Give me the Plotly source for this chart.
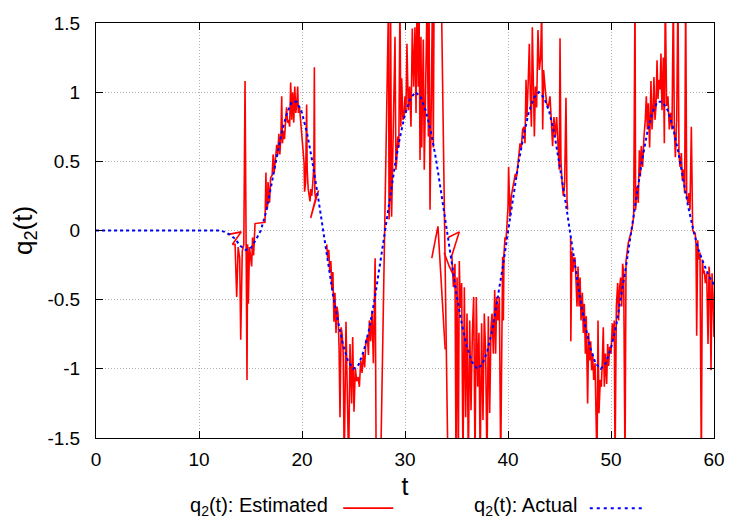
import plotly.graph_objects as go

# ---------------- data ----------------
# Actual q2(t) (blue dotted)
act_t = [0, 12, 12.5, 13, 13.5, 14, 14.5, 15, 15.5, 16, 16.5, 17, 17.5, 18, 18.5, 19, 19.5, 20,
         20.5, 21, 21.5, 22, 22.5, 23, 23.5, 24, 24.5, 25, 25.5, 26, 26.5, 27, 27.5, 28, 28.5,
         29, 29.5, 30, 30.5, 31, 31.5, 32, 32.5, 33, 33.5, 34, 34.5, 35, 35.5, 36, 36.5, 37,
         37.5, 38, 38.5, 39, 39.5, 40, 40.5, 41, 41.5, 42, 42.5, 43, 43.5, 44, 44.5, 45, 45.5,
         46, 46.5, 47, 47.5, 48, 48.5, 49, 49.5, 50, 50.5, 51, 51.5, 52, 52.5, 53, 53.5, 54,
         54.5, 55, 55.5, 56, 56.5, 57, 57.5, 58, 58.5, 59, 59.5, 60]
act_q = [0, 0, -0.01, -0.03, -0.06, -0.11, -0.14, -0.13, -0.07, 0.0, 0.13, 0.32, 0.52, 0.7,
         0.84, 0.93, 0.93, 0.85, 0.7, 0.5, 0.27, 0.02, -0.23, -0.46, -0.66, -0.83, -0.95, -1.0,
         -0.97, -0.87, -0.72, -0.52, -0.28, -0.03, 0.22, 0.46, 0.67, 0.84, 0.95, 1.0, 0.97, 0.87,
         0.72, 0.52, 0.28, 0.03, -0.22, -0.46, -0.67, -0.84, -0.95, -1.0, -0.97, -0.87, -0.71,
         -0.5, -0.26, -0.01, 0.24, 0.48, 0.68, 0.85, 0.96, 1.0, 0.96, 0.86, 0.7, 0.49, 0.25, 0.0,
         -0.25, -0.49, -0.69, -0.85, -0.96, -1.0, -0.96, -0.85, -0.69, -0.48, -0.24, 0.01, 0.26,
         0.5, 0.7, 0.85, 0.93, 0.93, 0.87, 0.75, 0.58, 0.37, 0.17, 0.0, -0.14, -0.24, -0.33, -0.39]

# Estimated q2(t) (red), in pieces
est_t_a = [12.78, 14.1, 13.25, 13.5, 13.66, 13.8, 13.95, 14.05, 14.2, 14.35, 14.47, 14.55, 14.66,
           14.72, 14.79, 14.9, 15.0, 15.11, 15.2, 15.3, 15.44, 16.41, 16.5, 16.55, 16.65, 16.7,
           16.85, 16.95, 17.1, 17.2, 17.3, 17.4, 17.55, 17.65, 17.75, 17.85, 17.95, 18.03, 18.1,
           18.2, 18.3, 18.4, 18.5, 18.6, 18.7, 18.8, 18.9, 19.0, 19.1, 19.2, 19.3, 19.4, 19.5,
           19.58, 19.65, 19.75, 19.9, 20.0, 20.1, 20.2, 20.25, 20.35, 20.45, 20.5, 20.6, 20.7,
           20.78, 20.85, 20.95, 21.05, 21.15, 21.2, 21.25, 21.35, 21.45, 20.84, 21.6]
est_q_a = [-0.03, -0.01, -0.1, -0.1, -0.48, -0.12, -0.2, -0.79, -0.15, -0.1, 1.08, -0.12, -1.08,
           -0.1, -0.53, -0.12, -0.2, -0.26, -0.05, -0.18, 0.05, 0.06, 0.42, 0.15, 0.17, 0.35,
           0.2, 0.38, 0.4, 0.55, 0.42, 0.5, 0.62, 0.55, 0.7, 0.55, 0.68, 0.97, 0.63, 0.72, 0.66,
           0.78, 0.89, 0.78, 0.8, 0.75, 1.07, 0.8, 1.0, 0.78, 1.04, 0.85, 0.92, 1.04, 0.85, 0.9,
           0.75, 0.65, 0.55, 0.49, 0.28, 0.35, 0.91, 0.45, 0.3, 0.25, 0.21, 0.3, 0.25, 0.35,
           0.46, 1.18, 0.27, 0.22, 0.27, 0.09, 0.29]

est_t_b = [22.4, 22.5, 22.6, 22.7, 22.8, 22.9, 23.0, 23.1, 23.2, 23.3, 23.4, 23.5, 23.6, 23.69,
           23.8, 23.9, 24.0, 24.1, 24.27, 24.4, 24.53, 24.66, 24.82, 24.92, 25.05, 25.18, 25.3,
           25.45, 25.57, 25.7, 25.83, 25.95, 26.08, 26.2, 26.35, 26.45, 26.54, 26.67, 26.8,
           26.93, 27.02, 27.1, 27.2, 27.65, 28.4, 28.45, 28.55, 28.6, 28.7, 28.8, 28.93, 29.03,
           29.12, 29.19, 29.3, 29.4, 29.51, 29.6, 29.68, 29.8, 29.9, 30.0, 30.09, 30.19, 30.32,
           30.45, 30.58, 30.71, 30.84, 30.97, 31.07, 31.17, 31.29, 31.36, 31.46, 31.55, 31.62,
           31.78, 31.87, 32.0, 32.14, 32.27, 32.33, 32.43, 32.53, 32.66, 32.75, 32.82, 33.1,
           33.55, 34.15]
est_q_b = [-0.1, -0.2, -0.14, -0.3, -0.22, -0.42, -0.3, -0.66, -0.45, -0.74, -0.55, -0.6, -0.85,
           -1.35, -0.7, -0.75, -0.89, -1.7, -0.66, -1.03, -1.7, -0.82, -1.25, -0.77, -1.31,
           -0.99, -1.09, -1.06, -1.13, -0.94, -1.03, -0.89, -0.99, -0.8, -0.77, -0.9, -0.65,
           -0.8, -0.58, -0.96, -0.36, -0.2, -1.7, -1.65, 1.65, 0.08, 0.3, 1.65, 0.1, 0.45, 1.04,
           1.4, 0.44, 0.5, 0.68, 0.6, 1.65, 0.75, 1.1, 0.8, 0.82, 0.97, 0.85, 1.35, 0.87, 1.04,
           0.75, 1.46, 1.04, 1.47, 0.85, 1.65, 1.04, 1.65, 0.51, 1.4, 0.6, 1.38, 0.44, 1.28, 1.65,
           0.68, 1.65, 0.15, 0.8, 1.65, 0.6, 1.65, 2.0, 1.6, -1.6]

est_t_c = [32.6, 33.2, 33.9]
est_q_c = [-0.2, 0.03, -0.86]

est_t_d = [33.8, 34.3, 34.75]
est_q_d = [-0.16, -0.26, -0.33]

est_t_e = [34.2, 35.27, 34.55, 34.7, 34.85, 34.95, 35.05, 35.18, 35.27, 35.37, 35.5, 35.63,
           35.76, 35.89, 36.02, 36.15, 36.28, 36.41, 36.54, 36.67, 36.8, 36.92, 37.06, 37.18,
           37.3, 37.44, 37.57, 37.7, 37.83, 37.96, 38.09, 38.22, 38.35, 38.45, 38.58, 38.71,
           38.8, 38.9, 39.03, 39.16, 39.29, 39.42, 39.48, 39.55, 39.61, 39.71, 39.8, 39.87, 40.0,
           40.06, 40.19, 40.32, 40.45, 40.58, 40.71, 40.84, 41.0, 41.17, 41.29, 41.42, 41.55,
           41.65, 41.75, 41.84, 41.97, 42.07, 42.17, 42.27, 42.36, 42.46, 42.56, 42.66, 42.78,
           42.91, 43.04, 43.17, 43.27, 43.37, 43.46, 43.59, 43.75, 43.92, 44.08, 44.2, 44.33,
           44.46, 44.59, 44.72, 44.85, 44.98, 45.05, 45.14, 45.24, 45.37, 45.5, 45.63, 45.73,
           45.79]
est_q_e = [-0.05, -0.01, -0.18, -0.41, -0.24, -1.7, -0.34, -1.7, -0.22, -0.56, -0.38, -1.7,
           -0.41, -1.35, -0.6, -1.7, -0.65, -1.3, -0.74, -0.48, -1.7, -0.48, -1.13, -0.74, -1.7,
           -0.67, -1.37, -0.6, -0.89, -1.7, -0.62, -1.32, -0.7, -0.6, -0.89, -0.43, -0.89, -0.48,
           -0.65, -0.48, -1.7, -0.46, -0.19, -0.65, -0.17, -0.05, -0.07, 0.0, 0.17, 0.46, 0.1,
           0.25, 0.3, 0.36, 0.41, 0.39, 0.51, 0.63, 0.6, 0.73, 0.75, 0.63, 1.09, 0.82, 1.09, 1.35,
           0.97, 0.75, 1.47, 1.04, 0.68, 1.04, 0.89, 1.45, 1.16, 1.25, 1.6, 0.73, 1.16, 1.04,
           0.92, 0.89, 0.97, 0.8, 0.61, 0.82, 0.68, 0.82, 0.61, 0.44, 1.39, 0.51, 0.36, 0.25,
           0.34, 0.96, 0.22, 0.15]

est_t_f = [46.08, 46.1, 46.2, 46.3, 46.4, 46.5, 46.6, 46.7, 46.8, 46.9, 47.0, 47.09, 47.22,
           47.31, 47.41, 47.51, 47.6, 47.73, 47.83, 47.93, 48.03, 48.12, 48.22, 48.32, 48.45,
           48.54, 48.64, 48.74, 48.83, 48.96, 49.06, 49.16, 49.25, 49.35, 49.45, 49.58, 49.68,
           49.77, 49.87, 50.0, 50.13, 50.23, 50.32, 50.39, 50.52, 50.65, 50.74, 50.84, 50.94,
           51.04, 51.13, 51.23, 51.36, 51.46, 51.55, 51.68, 51.81, 51.94, 52.07, 52.2, 52.33,
           52.39, 52.52, 52.65, 52.75, 52.85, 52.94, 53.07, 53.2, 53.33, 53.43, 53.53, 53.62,
           53.75, 53.88, 53.98, 54.08, 54.17, 54.27, 54.37, 54.47, 54.56, 54.66, 54.76, 54.85,
           54.95, 55.08, 55.18, 55.27, 55.4, 55.53, 55.66, 55.79, 55.92, 56.05, 56.15, 56.25,
           56.38, 56.5, 56.6, 56.7, 56.83, 56.93, 57.02, 57.15, 57.25, 57.35, 57.48, 57.57,
           57.67, 57.8, 57.86, 57.93, 58.05, 58.18, 58.25, 58.32, 58.42, 58.51, 58.64, 58.77,
           58.87, 58.97, 59.06, 59.16, 59.29, 59.42, 59.52, 59.61, 59.71, 59.81, 59.9, 60.0]
est_q_f = [-0.05, -0.8, -0.15, -0.3, -0.2, -0.2, -0.36, -0.55, -0.26, -0.55, -0.34, -0.65,
           -0.45, -0.74, -0.53, -0.89, -0.62, -1.25, -0.74, -0.94, -0.8, -1.01, -0.89, -1.08,
           -0.96, -1.25, -1.7, -0.65, -1.32, -1.08, -1.13, -0.94, -0.7, -1.13, -0.89, -1.11,
           -0.82, -0.98, -0.84, -0.89, -0.67, -0.79, -0.65, -1.7, -0.55, -0.38, -0.65, -0.41,
           -0.34, -0.55, -0.24, -0.31, -1.7, -0.22, -0.14, -0.09, -0.05, -0.02, 0.03, 0.1, 1.7,
           0.15, 0.32, 0.2, 0.58, 0.39, 0.61, 0.46, 0.68, 0.8, 0.97, 0.73, 0.92, 0.6, 1.08, 0.73,
           0.87, 1.11, 0.8, 0.9, 1.23, 0.95, 1.09, 1.02, 1.28, 0.87, 1.25, 0.63, 1.7, 0.9, 0.97,
           0.73, 0.85, 0.73, 1.7, 0.73, 0.53, 0.8, 1.7, 0.56, 0.46, 0.56, 0.36, 0.44, 0.27, 1.7,
           0.25, 0.2, 0.27, 0.15, 0.75, 0.08, 0.0, -0.01, -0.02, -0.1, -0.76, -0.07, -0.21,
           -0.16, -1.7, -0.21, -0.31, -0.29, -0.38, -0.31, -0.82, -0.26, -0.36, -1.01, -0.31,
           -0.46, -0.77]

x_tick_vals = [0, 10, 20, 30, 40, 50, 60]
y_tick_vals = [-1.5, -1, -0.5, 0, 0.5, 1, 1.5]
y_tick_text = ["-1.5", "-1", "-0.5", "0", "0.5", "1", "1.5"]

# ---------------- assemble ----------------
pieces_t = [est_t_a, est_t_b, est_t_c, est_t_d, est_t_e, est_t_f]
pieces_q = [est_q_a, est_q_b, est_q_c, est_q_d, est_q_e, est_q_f]
est_t, est_q = [], []
for pt, pq in zip(pieces_t, pieces_q):
    if est_t:
        est_t.append(None)
        est_q.append(None)
    est_t.extend(pt)
    est_q.extend(pq)

FONT = "Liberation Sans, Arial, Helvetica, sans-serif"

fig = go.Figure()
fig.add_trace(go.Scatter(x=est_t, y=est_q, mode="lines", connectgaps=False,
                         line=dict(color="#ff0000", width=1.6),
                         name="q<sub>2</sub>(t): Estimated", showlegend=False))
fig.add_trace(go.Scatter(x=act_t, y=act_q, mode="lines",
                         line=dict(color="#0000ff", width=2, dash="3px,3px"),
                         name="q<sub>2</sub>(t): Actual", showlegend=False))

axis_common = dict(showline=True, linecolor="black", linewidth=1, mirror="ticks",
                   ticks="inside", ticklen=7, tickcolor="black", tickwidth=1,
                   showgrid=True, gridcolor="#b4b4b4", griddash="1px,2px", gridwidth=1,
                   zeroline=False, automargin=False,
                   tickfont=dict(size=19, color="black", family=FONT))

fig.update_xaxes(range=[0, 60], tickvals=x_tick_vals, ticklabelstandoff=4,
                 title=dict(text="t", font=dict(size=25, color="black", family=FONT), standoff=8),
                 **axis_common)
fig.update_yaxes(range=[-1.5, 1.5], tickvals=y_tick_vals, ticktext=y_tick_text,
                 ticklabelstandoff=11,
                 title=dict(text="q<sub>2</sub>(t)", font=dict(size=26, color="black", family=FONT),
                            standoff=14),
                 **axis_common)

# legend drawn gnuplot-style (text then sample)
leg_font = dict(size=20, color="black", family=FONT)
fig.add_annotation(xref="paper", yref="paper", x=0.379, y=-0.165, xanchor="right",
                   yanchor="middle", text="q<sub>2</sub>(t): Estimated", showarrow=False,
                   font=leg_font)
fig.add_shape(type="line", xref="paper", yref="paper", x0=0.400, x1=0.481, y0=-0.169, y1=-0.169,
              line=dict(color="#ff0000", width=1.6))
fig.add_annotation(xref="paper", yref="paper", x=0.782, y=-0.165, xanchor="right",
                   yanchor="middle", text="q<sub>2</sub>(t): Actual", showarrow=False,
                   font=leg_font)
fig.add_shape(type="line", xref="paper", yref="paper", x0=0.799, x1=0.885, y0=-0.169, y1=-0.169,
              line=dict(color="#0000ff", width=2, dash="3px,4px"))

# page body adds an 8px offset, so the figure is 734x517 with plot area at 96..714 x 23..438
fig.update_layout(width=734, height=517, autosize=False,
                  margin=dict(l=88, r=28, t=15, b=87),
                  paper_bgcolor="white", plot_bgcolor="white",
                  font=dict(family=FONT, color="black"), showlegend=False)

fig.write_html("out.html")
